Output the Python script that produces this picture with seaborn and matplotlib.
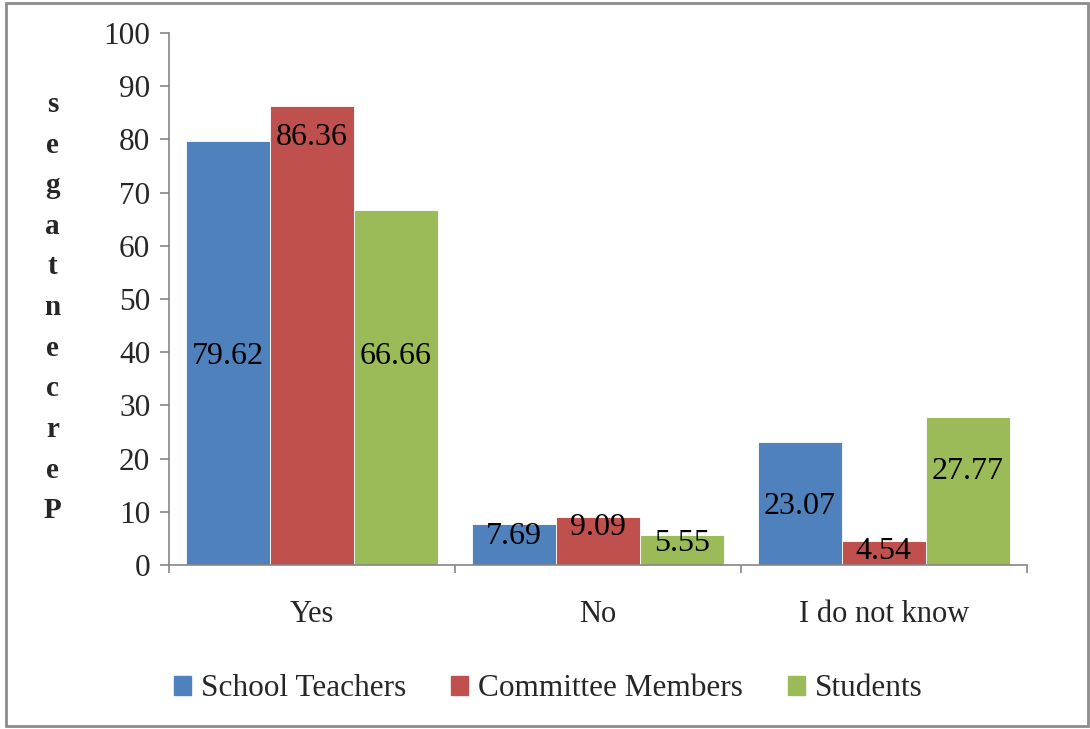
import matplotlib
matplotlib.use("Agg")
import matplotlib.pyplot as plt
import seaborn as sns
import pandas as pd
from matplotlib.patches import Rectangle

categories = ["Yes", "No", "I do not know"]
series = ["School Teachers", "Committee Members", "Students"]
school_teachers = [79.62, 7.69, 23.07]
committee_members = [86.36, 9.09, 4.54]
students = [66.66, 5.55, 27.77]
yticks = [0, 10, 20, 30, 40, 50, 60, 70, 80, 90, 100]

# layout: label anchor heights (data units) as placed in the reference
label_y = [[39.1, 5.3, 10.9], [80.3, 7.1, 2.6], [39.1, 4.1, 17.5]]

colors = ["#4F81BD", "#C0504D", "#9BBB59"]

rows = []
for s, vals in zip(series, [school_teachers, committee_members, students]):
    for c, v in zip(categories, vals):
        rows.append({"Category": c, "Series": s, "Value": v})
df = pd.DataFrame(rows)

sns.set_theme(style="white")
plt.rcParams["font.family"] = ["Liberation Serif", "DejaVu Serif"]

fig = plt.figure(figsize=(10.9, 7.29), dpi=100)
ax = fig.add_axes([0.155, 0.225, 0.787, 0.7297])

sns.barplot(data=df, x="Category", y="Value", hue="Series", order=categories,
            hue_order=series, palette=colors, width=0.881, gap=0,
            saturation=1, ax=ax, legend=False, edgecolor="white", linewidth=0.6)

ax.set_xlim(-0.5, 2.5)
ax.set_ylim(0, 100)
ax.set_yticks(yticks)
ax.set_yticklabels([str(t) for t in yticks], fontsize=22.5)
ax.set_xticks([-0.5, 0.5, 1.5, 2.5])
ax.set_xticklabels([])
ax.set_xticks([0, 1, 2], minor=True)
ax.set_xticklabels(categories, minor=True, fontsize=22)
ax.tick_params(axis="x", which="major", direction="out", length=6, width=1.2,
               color="#868686", bottom=True)
ax.tick_params(axis="x", which="minor", length=0, pad=25)
ax.tick_params(axis="y", direction="out", length=6.5, width=1.2,
               color="#868686", left=True, pad=7)
ax.set_xlabel("")
ax.set_ylabel("")
for side in ["top", "right"]:
    ax.spines[side].set_visible(False)
for side in ["left", "bottom"]:
    ax.spines[side].set_color("#868686")
    ax.spines[side].set_linewidth(1.2)

for ci, cont in enumerate(ax.containers):
    vals = [school_teachers, committee_members, students][ci]
    for bi, bar in enumerate(cont):
        x = bar.get_x() + bar.get_width() / 2
        ax.text(x, label_y[ci][bi], f"{vals[bi]:.2f}", ha="center", va="center",
                fontsize=23, color="black")

fig.text(0.048, 0.578, "\n".join(list("Percentages")[::-1]), ha="center",
         va="center", fontsize=21, fontweight="bold", linespacing=1.65)

handles = [Rectangle((0, 0), 1, 1, color=c) for c in colors]
fig.legend(handles, series, loc="center", bbox_to_anchor=(0.503, 1 - 689 / 729),
           ncol=3, frameon=False, fontsize=22.5, handlelength=0.55,
           handleheight=0.55, handletextpad=0.3, columnspacing=1.45)

fig.patches.append(Rectangle((6 / 1090, 3 / 729), 1082 / 1090, 723 / 729,
                             transform=fig.transFigure, fill=False,
                             edgecolor="#8C8C8C", linewidth=2))

fig.savefig("out.png", dpi=100)
